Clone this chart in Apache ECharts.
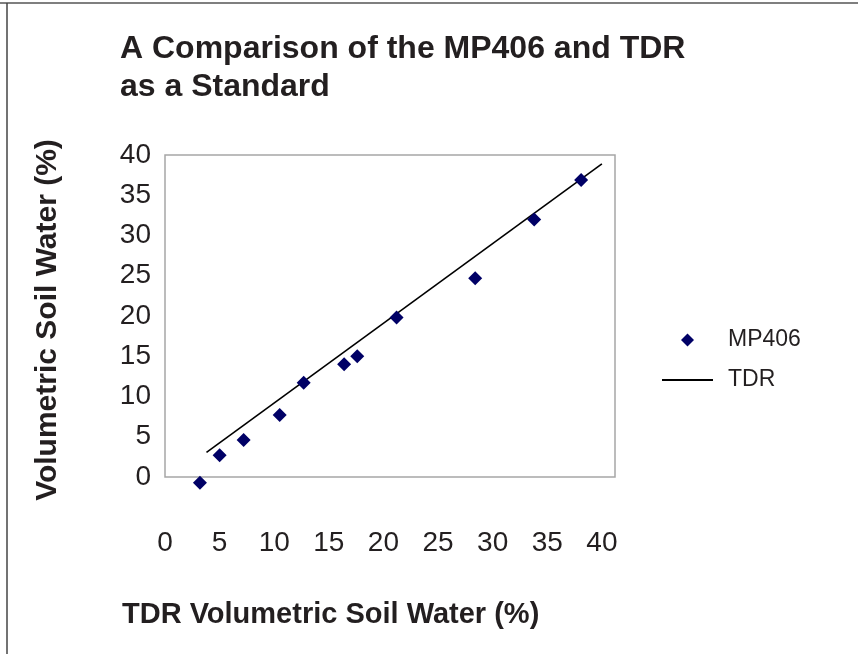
<!DOCTYPE html>
<html>
<head>
<meta charset="utf-8">
<script src="https://cdn.jsdelivr.net/npm/echarts@6/dist/echarts.min.js"></script>
<style>
html,body{margin:0;padding:0;background:#fff;}
#chart{width:858px;height:654px;}
</style>
</head>
<body>
<div id="chart"></div>
<script>
// Data
var mp406X = [3.2, 5.0, 7.2, 10.5, 12.7, 16.4, 17.6, 21.2, 28.4, 33.8, 38.1];
var mp406Y = [-0.7, 2.7, 4.6, 7.7, 11.7, 14.0, 15.0, 19.8, 24.7, 32.0, 36.9];
var tdrX = [3.8, 40];
var tdrY = [3.05, 38.9];
var xTicks = [0, 5, 10, 15, 20, 25, 30, 35, 40];
var yTicks = [0, 5, 10, 15, 20, 25, 30, 35, 40];

var titleText = 'A Comparison of the MP406 and TDR\nas a Standard';
var xTitle = 'TDR Volumetric Soil Water (%)';
var yTitle = 'Volumetric Soil Water (%)';

var FONT = '"Liberation Sans", Arial, Helvetica, sans-serif';
var TXT = '#231f20';

var mpData = mp406X.map(function (x, i) { return [x, mp406Y[i]]; });
var tdrData = tdrX.map(function (x, i) { return [x, tdrY[i]]; });

var chart = echarts.init(document.getElementById('chart'), null, {renderer: 'canvas'});
chart.setOption({
  backgroundColor: '#fff',
  animation: false,
  title: {
    text: titleText,
    left: 120,
    top: 30,
    padding: 0,
    textStyle: {fontFamily: FONT, fontSize: 32, fontWeight: 'bold', color: TXT, lineHeight: 38}
  },
  grid: {
    left: 165, top: 155, width: 450, height: 322,
    show: true, borderColor: '#a6a6a6', borderWidth: 1.5, backgroundColor: '#fff'
  },
  legend: [
    {
      orient: 'vertical', left: 681, top: 328.5, padding: 0,
      itemWidth: 13, itemHeight: 13,
      data: [{name: 'MP406', icon: 'diamond', itemStyle: {color: '#000066', opacity: 1}}],
      textStyle: {fontFamily: FONT, fontSize: 23, color: TXT, padding: [0, 0, 0, 29]}
    },
    {
      orient: 'vertical', left: 662, top: 368.5, padding: 0,
      itemWidth: 51, itemHeight: 2,
      data: [{name: 'TDR', icon: 'rect', itemStyle: {color: '#000', opacity: 1}}],
      textStyle: {fontFamily: FONT, fontSize: 23, color: TXT, padding: [0, 0, 0, 10]}
    }
  ],
  xAxis: {
    type: 'value', min: 0, max: 41.2, interval: 5,
    axisLine: {show: false}, axisTick: {show: false}, splitLine: {show: false},
    axisLabel: {
      margin: 52, fontFamily: FONT, fontSize: 28, color: TXT,
      showMaxLabel: false,
      formatter: function (v) { return xTicks.indexOf(v) >= 0 ? String(v) : ''; }
    }
  },
  yAxis: {
    type: 'value', min: 0, max: 40, interval: 5,
    axisLine: {show: false}, axisTick: {show: false}, splitLine: {show: false},
    axisLabel: {
      margin: 14, fontFamily: FONT, fontSize: 28, color: TXT,
      formatter: function (v) { return yTicks.indexOf(v) >= 0 ? String(v) : ''; }
    }
  },
  series: [
    {
      name: 'MP406', type: 'scatter', data: mpData, clip: false,
      symbol: 'diamond', symbolSize: 14,
      itemStyle: {color: '#000066', opacity: 1}, z: 3
    },
    {
      name: 'TDR', type: 'line', data: tdrData, symbol: 'none', showSymbol: false,
      lineStyle: {color: '#000', width: 1.6}, itemStyle: {color: '#000'}, z: 2
    }
  ],
  graphic: [
    {type: 'line', shape: {x1: 0, y1: 3, x2: 858, y2: 3}, style: {stroke: '#555', lineWidth: 1.5}},
    {type: 'line', shape: {x1: 7, y1: 3, x2: 7, y2: 654}, style: {stroke: '#444', lineWidth: 1.5}},
    {type: 'text', x: 122, y: 615,
      style: {text: xTitle, font: 'bold 29px ' + FONT, fill: TXT, align: 'left', verticalAlign: 'middle'}},
    {type: 'text', x: 48, y: 320, rotation: Math.PI / 2,
      style: {text: yTitle, font: 'bold 30px ' + FONT, fill: TXT, align: 'center', verticalAlign: 'middle'}}
  ]
});
</script>
</body>
</html>
